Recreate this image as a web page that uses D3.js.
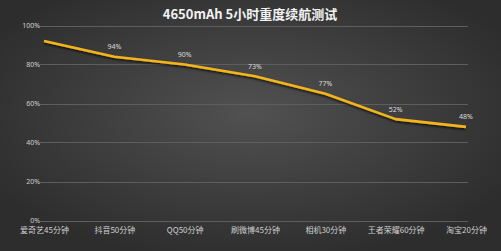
<!DOCTYPE html>
<html>
<head>
<meta charset="utf-8">
<script src="https://cdn.jsdelivr.net/npm/d3@7"></script>
<style>
  body { margin: 0; background: #333; }
  svg { display: block; font-family: "Noto Sans CJK SC", "Noto Sans", sans-serif; }
</style>
</head>
<body>
<div class="chart"></div>
<script>
// chart data
var categories = ["爱奇艺45分钟", "抖音50分钟", "QQ50分钟", "刷微博45分钟", "相机30分钟", "王者荣耀60分钟", "淘宝20分钟"];
var batteryValues = [92, 84, 80, 74, 65, 52, 48];
var pointLabels = ["", "94%", "90%", "73%", "77%", "52%", "48%"];
var yTicks = [0, 20, 40, 60, 80, 100];
var title = "4650mAh 5小时重度续航测试";

var svgWidth = 501;
var svgHeight = 251;

var svg = d3
  .select(".chart")
  .append("svg")
  .attr("width", svgWidth)
  .attr("height", svgHeight);

// dark vignette background
var defs = svg.append("defs");
var grad = defs
  .append("radialGradient")
  .attr("id", "bg")
  .attr("cx", "50%")
  .attr("cy", "45%")
  .attr("r", "60%");
grad.append("stop").attr("offset", "0%").attr("stop-color", "#515151");
grad.append("stop").attr("offset", "100%").attr("stop-color", "#2d2d2d");

var shadow = defs.append("filter").attr("id", "shadow").attr("x", "-5%").attr("y", "-20%").attr("width", "110%").attr("height", "140%");
shadow
  .append("feDropShadow")
  .attr("dx", 0)
  .attr("dy", 1.5)
  .attr("stdDeviation", 0.8)
  .attr("flood-color", "#000")
  .attr("flood-opacity", 0.8);

svg
  .append("rect")
  .attr("width", svgWidth)
  .attr("height", svgHeight)
  .attr("fill", "url(#bg)");

// scales
var xScale = d3.scalePoint().domain(categories).range([44, 466]);
var yScale = d3.scaleLinear().domain([0, 100]).range([220.5, 25.5]);

// gridlines
svg
  .append("g")
  .selectAll("line")
  .data(yTicks)
  .enter()
  .append("line")
  .attr("x1", 40)
  .attr("x2", 468)
  .attr("y1", (d) => Math.round(yScale(d)) + 0.5)
  .attr("y2", (d) => Math.round(yScale(d)) + 0.5)
  .attr("stroke", "#5e5e5e")
  .attr("stroke-width", 1);

// y axis labels
var leftAxis = d3
  .axisLeft(yScale)
  .tickValues(yTicks)
  .tickFormat((d) => d + "%")
  .tickSize(0)
  .tickPadding(0);

var yAxis = svg.append("g").attr("transform", "translate(40, 0)").call(leftAxis);
yAxis.select(".domain").remove();
yAxis
  .selectAll("text")
  .attr("fill", "#d0d0d0")
  .attr("font-size", "7px")
  .attr("font-family", "Noto Sans, sans-serif");

// x axis labels
var bottomAxis = d3.axisBottom(xScale).tickSize(0).tickPadding(0);
var xAxis = svg.append("g").attr("transform", "translate(0, 227)").call(bottomAxis);
xAxis.select(".domain").remove();
xAxis
  .selectAll("text")
  .attr("fill", "#cfcfcf")
  .attr("font-size", "8px")
  .attr("font-family", "Noto Sans CJK SC, sans-serif");

// line
var line = d3
  .line()
  .x((d, i) => xScale(categories[i]))
  .y((d) => yScale(d));

svg
  .append("path")
  .datum(batteryValues)
  .attr("d", line)
  .attr("fill", "none")
  .attr("stroke", "#f3b51b")
  .attr("stroke-width", 2.6)
  .attr("stroke-linejoin", "round")
  .attr("filter", "url(#shadow)");

// point labels
svg
  .append("g")
  .selectAll("text")
  .data(batteryValues)
  .enter()
  .append("text")
  .attr("x", (d, i) => xScale(categories[i]))
  .attr("y", (d) => yScale(d) - 7.5)
  .attr("text-anchor", "middle")
  .attr("fill", "#dcdcdc")
  .attr("font-size", "7px")
  .attr("font-family", "Noto Sans, sans-serif")
  .text((d, i) => pointLabels[i]);

// title
svg
  .append("text")
  .attr("x", 250)
  .attr("y", 19)
  .attr("text-anchor", "middle")
  .attr("fill", "#f2f2f2")
  .attr("font-size", "13px")
  .attr("font-weight", "bold")
  .text(title);
</script>
</body>
</html>
